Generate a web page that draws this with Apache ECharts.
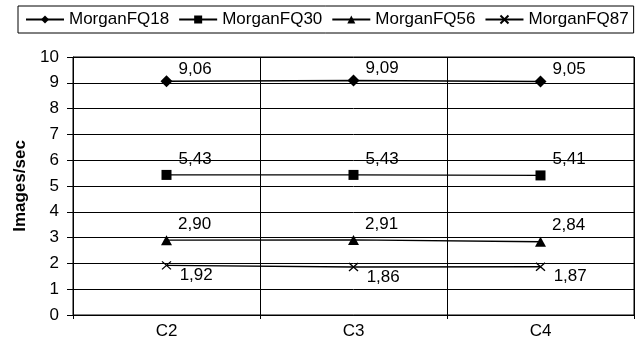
<!DOCTYPE html>
<html>
<head>
<meta charset="utf-8">
<script src="https://cdn.jsdelivr.net/npm/echarts@6/dist/echarts.min.js"></script>
<style>
html,body{margin:0;padding:0;background:#fff;}
#chart{width:637px;height:343px;}
</style>
</head>
<body>
<div id="chart"></div>
<script>
// Throughput per configuration
const categories = ['C2', 'C3', 'C4'];
const seriesNames = ['MorganFQ18', 'MorganFQ30', 'MorganFQ56', 'MorganFQ87'];
const fq18 = [9.06, 9.09, 9.05];
const fq30 = [5.43, 5.43, 5.41];
const fq56 = [2.90, 2.91, 2.84];
const fq87 = [1.92, 1.86, 1.87];
const yTicks = [0, 1, 2, 3, 4, 5, 6, 7, 8, 9, 10];

const FONT = 'Liberation Sans, Arial, sans-serif';
const crossPath = 'path://M0,0L10,10M10,0L0,10';

const seriesValues = [fq18, fq30, fq56, fq87];
const symbols = ['diamond', 'rect', 'triangle', crossPath];
const symbolSizes = [[12, 12], 10, [11, 10], [9, 8]];
const labelOffsets = [[1, -12], [2, -16], [1, -16], [3, 10]];

const chart = echarts.init(document.getElementById('chart'), null, {renderer: 'canvas'});

const series = seriesValues.map((vals, i) => ({
  name: seriesNames[i],
  type: 'line',
  data: vals,
  symbol: symbols[i],
  symbolSize: symbolSizes[i],
  showAllSymbol: true,
  lineStyle: {color: '#000', width: 1.3},
  itemStyle: {color: i === 3 ? 'rgba(0,0,0,0)' : '#000', borderColor: '#000', borderWidth: i === 3 ? 1.2 : 0},
  emphasis: {disabled: true},
  animation: false,
  label: {
    show: true,
    position: 'right',
    distance: 5,
    offset: labelOffsets[i],
    color: '#000',
    fontFamily: FONT,
    fontSize: 17,
    formatter: p => p.value.toFixed(2).replace('.', ',')
  }
}));

chart.setOption({
  animation: false,
  backgroundColor: '#fff',
  textStyle: {fontFamily: FONT, color: '#000'},
  legend: {
    data: seriesNames,
    left: 18,
    top: 6,
    width: 630,
    padding: [5, 5, 5, 7],
    itemWidth: 38,
    itemHeight: 10,
    itemGap: 9,
    borderColor: '#000',
    borderWidth: 1,
    textStyle: {fontFamily: FONT, fontSize: 17, color: '#000'}
  },
  grid: {
    left: 73, right: 3, top: 57, bottom: 28,
    show: true, borderColor: '#000', borderWidth: 1, containLabel: false
  },
  xAxis: {
    type: 'category',
    data: categories,
    boundaryGap: true,
    axisLine: {lineStyle: {color: '#000', width: 1}},
    axisTick: {show: true, length: 4, lineStyle: {color: '#000'}},
    axisLabel: {color: '#000', fontFamily: FONT, fontSize: 17, margin: 8},
    splitLine: {show: true, lineStyle: {color: '#000', width: 1}}
  },
  yAxis: {
    type: 'value',
    min: yTicks[0],
    max: yTicks[yTicks.length - 1],
    interval: 1,
    name: 'Images/sec',
    nameLocation: 'middle',
    nameGap: 37,
    nameTextStyle: {fontFamily: FONT, fontSize: 17, fontWeight: 'bold', color: '#000'},
    axisLine: {show: true, lineStyle: {color: '#000', width: 1}},
    axisTick: {show: true, length: 6, lineStyle: {color: '#000'}},
    axisLabel: {color: '#000', fontFamily: FONT, fontSize: 17, margin: 14},
    splitLine: {show: true, lineStyle: {color: '#000', width: 1}}
  },
  series: series
});
</script>
</body>
</html>
